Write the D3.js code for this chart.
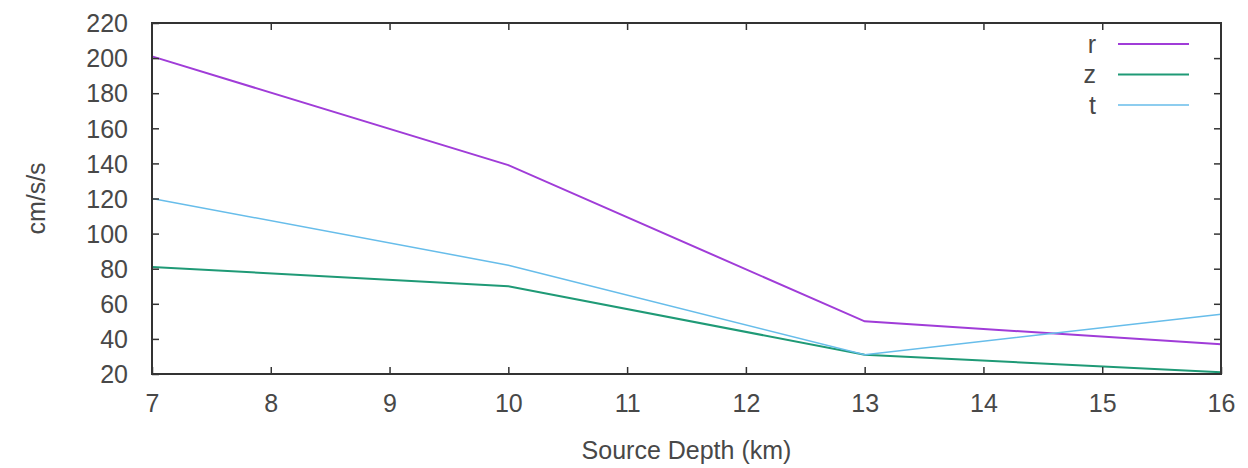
<!DOCTYPE html>
<html>
<head>
<meta charset="utf-8">
<script src="https://cdn.jsdelivr.net/npm/d3@7/dist/d3.min.js"></script>
<style>
  body { margin: 0; background: #fff; }
  text { font-family: "Liberation Sans", Arial, sans-serif; fill: #484848; }
</style>
</head>
<body>
<svg id="chart" width="1248" height="468"></svg>
<script>
// source depth (km)
const depths = [7, 10, 13, 16];
// peak acceleration, cm/s/s
const rValues = [201, 139, 50, 37];
const zValues = [81, 70, 31, 21];
const tValues = [120, 82, 31, 54];

const seriesNames = ['r', 'z', 't'];
const xTicks = [7, 8, 9, 10, 11, 12, 13, 14, 15, 16];
const yTicks = [20, 40, 60, 80, 100, 120, 140, 160, 180, 200, 220];

const colours = { r: '#a03cd8', z: '#1f9a76', t: '#67bdea' };
const widths = { r: 2, z: 2, t: 1.5 };

const svg = d3.select('#chart');
const margin = { left: 152, right: 27, top: 23, bottom: 94 };
const width = 1248 - margin.left - margin.right;
const height = 468 - margin.top - margin.bottom;

const x = d3.scaleLinear().domain([7, 16]).range([0, width]);
const y = d3.scaleLinear().domain([20, 220]).range([height, 0]);

const g = svg.append('g')
  .attr('transform', 'translate(' + margin.left + ',' + margin.top + ')');

// lines
const series = {
  r: rValues,
  z: zValues,
  t: tValues
};

const line = d3.line()
  .x(d => x(d[0]))
  .y(d => y(d[1]));

seriesNames.forEach(name => {
  g.append('path')
    .datum(depths.map((d, i) => [d, series[name][i]]))
    .attr('d', line)
    .style('fill', 'none')
    .style('stroke', colours[name])
    .style('stroke-width', widths[name]);
});

// axes (gnuplot style: inward ticks, mirrored)
const tickLen = 7;
const styleAxis = sel => {
  sel.select('.domain').remove();
  sel.selectAll('line').style('stroke', '#333').style('stroke-width', 1.5);
};

g.append('g')
  .attr('transform', 'translate(0,' + height + ')')
  .call(d3.axisBottom(x).tickValues(xTicks).tickSize(-tickLen).tickFormat(d3.format('d')))
  .call(styleAxis)
  .selectAll('text')
  .style('font-size', '25px')
  .style('fill', '#484848')
  .attr('dy', '0.71em')
  .attr('y', 20);

g.append('g')
  .call(d3.axisTop(x).tickValues(xTicks.slice(1, -1)).tickSize(-tickLen).tickFormat(''))
  .call(styleAxis);

g.append('g')
  .call(d3.axisLeft(y).tickValues(yTicks).tickSize(-tickLen).tickFormat(d3.format('d')))
  .call(styleAxis)
  .selectAll('text')
  .style('font-size', '25px')
  .style('fill', '#484848')
  .attr('x', -24)
  .attr('dy', '0.35em');

g.append('g')
  .attr('transform', 'translate(' + width + ',0)')
  .call(d3.axisRight(y).tickValues(yTicks.slice(1, -1)).tickSize(-tickLen).tickFormat(''))
  .call(styleAxis);

// border
g.append('rect')
  .attr('width', width)
  .attr('height', height)
  .style('fill', 'none')
  .style('stroke', '#333')
  .style('stroke-width', 2);

// axis titles
svg.append('text')
  .attr('x', margin.left + width / 2)
  .attr('y', 459)
  .attr('text-anchor', 'middle')
  .style('font-size', '25px')
  .text('Source Depth (km)');

svg.append('text')
  .attr('transform', 'translate(45,' + (margin.top + height / 2) + ') rotate(-90)')
  .attr('text-anchor', 'middle')
  .style('font-size', '25px')
  .text('cm/s/s');

// legend
const legend = svg.append('g');
seriesNames.forEach((name, i) => {
  const ly = 44 + i * 30.5;
  legend.append('text')
    .attr('x', 1096)
    .attr('y', ly)
    .attr('dy', '0.35em')
    .attr('text-anchor', 'end')
    .style('font-size', '25px')
    .text(name);
  legend.append('line')
    .attr('x1', 1118)
    .attr('x2', 1189)
    .attr('y1', ly)
    .attr('y2', ly)
    .style('stroke', colours[name])
    .style('stroke-width', widths[name]);
});
</script>
</body>
</html>
